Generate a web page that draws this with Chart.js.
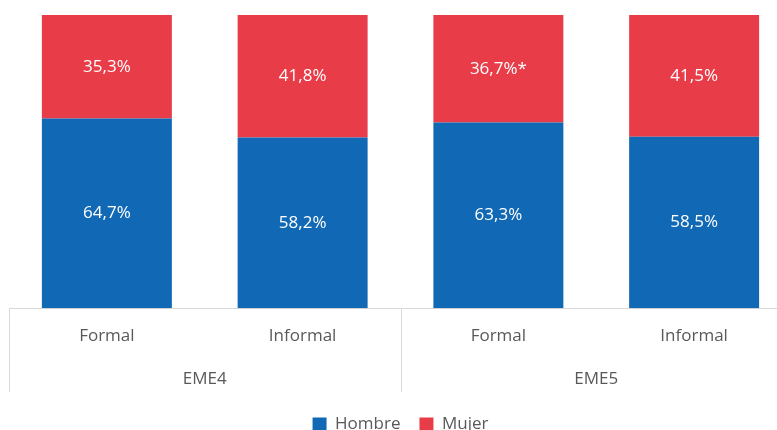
<!DOCTYPE html>
<html>
<head>
<meta charset="utf-8">
<script src="https://cdn.jsdelivr.net/npm/chart.js@4/dist/chart.umd.min.js"></script>
<style>
  html, body { margin: 0; padding: 0; background: #fff; overflow: hidden; }
  #wrap { width: 800px; height: 430px; }
</style>
</head>
<body>
<div id="wrap"><canvas id="c" width="800" height="430"></canvas></div>
<script>
const categories = ['Formal', 'Informal', 'Formal', 'Informal'];
const groups = ['EME4', 'EME5'];
const hombre = [64.7, 58.2, 63.3, 58.5];
const mujer = [35.3, 41.8, 36.7, 41.5];
const hombreNotes = ['', '', '', ''];
const mujerNotes = ['', '', '*', ''];
const FONT = "'Open Sans', 'Noto Sans', sans-serif";

const fmt = v => v.toFixed(1).replace('.', ',') + '%';

const dataLabels = {
  id: 'dataLabels',
  afterDatasetsDraw(chart) {
    const ctx = chart.ctx;
    ctx.save();
    ctx.fillStyle = '#ffffff';
    ctx.font = '17px ' + FONT;
    ctx.textAlign = 'center';
    ctx.textBaseline = 'middle';
    chart.data.datasets.forEach((ds, di) => {
      const meta = chart.getDatasetMeta(di);
      meta.data.forEach((el, i) => {
        const y = (el.y + el.base) / 2;
        ctx.fillText(fmt(ds.data[i]) + ds.notes[i], el.x, y);
      });
    });
    ctx.restore();
  }
};

const separators = {
  id: 'separators',
  afterDraw(chart) {
    const x = chart.scales.x;
    const ctx = chart.ctx;
    const step = x.getPixelForValue(1) - x.getPixelForValue(0);
    const top = x.top;
    const bottom = x.top + 84;
    ctx.save();
    ctx.strokeStyle = '#d9d9d9';
    ctx.lineWidth = 1;
    for (let g = 0; g <= groups.length; g++) {
      const px = Math.round(x.getPixelForValue(g * 2) - step / 2) + 0.5;
      ctx.beginPath();
      ctx.moveTo(px, top);
      ctx.lineTo(px, bottom);
      ctx.stroke();
    }
    ctx.restore();
  }
};

new Chart(document.getElementById('c'), {
  type: 'bar',
  data: {
    labels: categories,
    datasets: [
      { label: 'Hombre', data: hombre, notes: hombreNotes, backgroundColor: '#1169b5', borderWidth: 0 },
      { label: 'Mujer', data: mujer, notes: mujerNotes, backgroundColor: '#e93c49', borderWidth: 0 }
    ]
  },
  options: {
    responsive: false,
    animation: false,
    layout: { padding: { top: 15, left: 9, right: 8, bottom: -13 } },
    datasets: { bar: { categoryPercentage: 1, barPercentage: 0.664 } },
    scales: {
      x: {
        stacked: true,
        grid: { display: false },
        border: { display: true, color: '#d9d9d9', width: 1 },
        ticks: { color: '#595959', font: { family: FONT, size: 17 }, padding: 10 }
      },
      x2: {
        type: 'category',
        labels: groups,
        position: 'bottom',
        offset: true,
        grid: { display: false },
        border: { display: false },
        ticks: { color: '#595959', font: { family: FONT, size: 17 }, padding: 4 },
        afterFit(scale) { scale.height += 4; }
      },
      y: {
        stacked: true,
        display: false,
        min: 0,
        max: 100
      }
    },
    plugins: {
      legend: {
        position: 'bottom',
        labels: {
          color: '#595959',
          font: { family: FONT, size: 17 },
          boxWidth: 14,
          boxHeight: 14,
          padding: 19
        }
      },
      tooltip: { enabled: false }
    }
  },
  plugins: [dataLabels, separators]
});
</script>
</body>
</html>
